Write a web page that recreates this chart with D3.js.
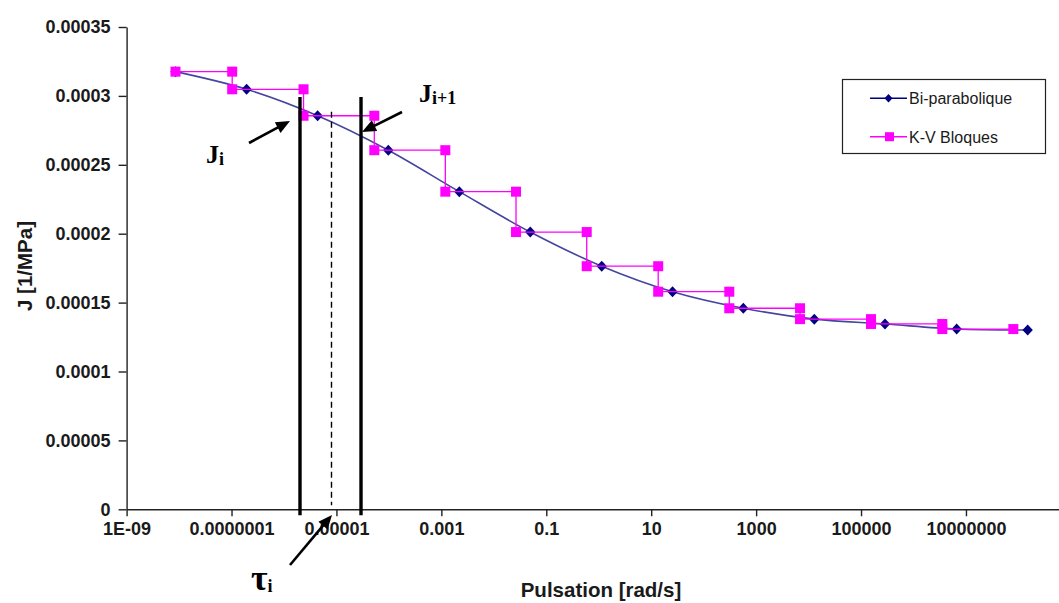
<!DOCTYPE html>
<html>
<head>
<meta charset="utf-8">
<script src="https://cdn.jsdelivr.net/npm/d3@7/dist/d3.min.js"></script>
<style>
  html, body { margin: 0; padding: 0; background: #fff; }
  svg { display: block; }
</style>
</head>
<body>
<svg id="chart" width="1059" height="603"></svg>
<script>
// ---------------- DATA ----------------
// Bi-parabolique model (pulsation [rad/s], J [1/MPa])
const omegaBi = [8.55e-9, 1.94e-7, 4.38e-6, 9.75e-5, 2.2e-3, 0.0495, 1.14, 25.5, 570, 12850, 2.86e5, 6.65e6, 1.5e8];
const jBi     = [0.0003176, 0.0003048, 0.0002856, 0.0002606, 0.0002305, 0.0002012, 0.0001764, 0.0001579, 0.0001459, 0.000138, 0.0001345, 0.0001308, 0.0001301];
// K-V Bloques (step boundaries and step levels)
const tauKV = [8.55e-9, 1.03e-7, 2.36e-6, 5.27e-5, 1.19e-3, 0.0265, 0.59, 13.6, 308, 6870, 1.55e5, 3.54e6, 8.0e7];
const jKV   = [0.0003176, 0.0003048, 0.0002856, 0.0002606, 0.0002305, 0.0002012, 0.0001764, 0.0001579, 0.0001459, 0.000138, 0.0001345, 0.0001308];
// Axis ticks
const xTickValues = [1e-9, 1e-7, 1e-5, 1e-3, 1e-1, 1e1, 1e3, 1e5, 1e7];
const xTickLabels = ["1E-09", "0.0000001", "0.00001", "0.001", "0.1", "10", "1000", "100000", "10000000"];
const yTickValues = [0, 0.00005, 0.0001, 0.00015, 0.0002, 0.00025, 0.0003, 0.00035];
const yTickLabels = ["0", "0.00005", "0.0001", "0.00015", "0.0002", "0.00025", "0.0003", "0.00035"];
const seriesNames = ["Bi-parabolique", "K-V Bloques"];
// Annotation positions (data space): tau_i bounds and tau_i
const annotOmega = { left: 2.02e-6, right: 2.94e-5, tau: 8.05e-6 };

// ---------------- SCALES ----------------
const svg = d3.select("#chart");
const x = d3.scaleLog().domain([1e-9, 1e9]).range([126.6, 126.6 + 18 * 52.46]);
const y = d3.scaleLinear().domain([0, 0.00035]).range([509.3, 27]);

const sansBold = "'Liberation Sans', Arial, sans-serif";
const textCol = "#1a1a1a";

// ---------------- AXES ----------------
const xAxis = d3.axisBottom(x)
  .tickValues(xTickValues)
  .tickFormat((d, i) => xTickLabels[i])
  .tickSizeInner(7).tickSizeOuter(0).tickPadding(6);
const gx = svg.append("g").attr("transform", `translate(0,${y(0)})`).call(xAxis);

const yAxis = d3.axisLeft(y)
  .tickValues(yTickValues)
  .tickFormat((d, i) => yTickLabels[i])
  .tickSizeInner(8).tickSizeOuter(0).tickPadding(8);
const gy = svg.append("g").attr("transform", `translate(${x(1e-9)},0)`).call(yAxis);

[gx, gy].forEach(g => {
  g.select(".domain").attr("stroke", "#222").attr("stroke-width", 1.4);
  g.selectAll(".tick line").attr("stroke", "#222").attr("stroke-width", 1.4);
  g.selectAll(".tick text")
    .attr("fill", textCol)
    .style("font-family", sansBold)
    .style("font-weight", "bold")
    .style("font-size", "18px");
});

// Axis titles
svg.append("text")
  .attr("x", 601).attr("y", 597)
  .attr("text-anchor", "middle")
  .attr("fill", textCol)
  .style("font-family", sansBold).style("font-weight", "bold").style("font-size", "20.5px")
  .text("Pulsation [rad/s]");

svg.append("text")
  .attr("transform", "translate(32,266) rotate(-90)")
  .attr("text-anchor", "middle")
  .attr("fill", textCol)
  .style("font-family", sansBold).style("font-weight", "bold").style("font-size", "20.5px")
  .text("J [1/MPa]");

// ---------------- SERIES ----------------
const blueLine = "#45459f";
const navy = "#000080";
const magenta = "#ff00ff";

const biData = omegaBi.map((w, i) => ({ w, j: jBi[i] }));
const line = d3.line().x(d => x(d.w)).y(d => y(d.j)).curve(d3.curveCatmullRom.alpha(0.5));

svg.append("path")
  .datum(biData)
  .attr("d", line)
  .attr("fill", "none")
  .attr("stroke", blueLine)
  .attr("stroke-width", 1.6);

const diamondPath = (w, h) => `M0,${-h} L${w},0 L0,${h} L${-w},0 Z`;
svg.append("g").selectAll("path")
  .data(biData)
  .join("path")
  .attr("d", diamondPath(5.2, 5.5))
  .attr("transform", d => `translate(${x(d.w)},${y(d.j)})`)
  .attr("fill", navy);

// K-V step vertices built from tauKV and jKV
const kvData = [{ w: tauKV[0], j: jKV[0] }];
for (let i = 1; i < tauKV.length; i++) {
  kvData.push({ w: tauKV[i], j: jKV[i - 1] });
  if (i < jKV.length) kvData.push({ w: tauKV[i], j: jKV[i] });
}
const kvLine = d3.line().x(d => x(d.w)).y(d => y(d.j));
svg.append("path")
  .datum(kvData)
  .attr("d", kvLine)
  .attr("fill", "none")
  .attr("stroke", magenta)
  .attr("stroke-width", 1.3);

svg.append("g").selectAll("rect")
  .data(kvData)
  .join("rect")
  .attr("x", d => x(d.w) - 5)
  .attr("y", d => y(d.j) - 5)
  .attr("width", 10).attr("height", 10)
  .attr("fill", magenta);

// ---------------- ANNOTATIONS ----------------
const ann = svg.append("g");
// thick vertical bounds
[annotOmega.left, annotOmega.right].forEach(w => {
  ann.append("line")
    .attr("x1", x(w)).attr("x2", x(w))
    .attr("y1", y(0.0002992)).attr("y2", y(0) + 6)
    .attr("stroke", "#000").attr("stroke-width", 3.4);
});
// dashed tau line
ann.append("line")
  .attr("x1", x(annotOmega.tau)).attr("x2", x(annotOmega.tau))
  .attr("y1", y(0.0002885)).attr("y2", y(0) - 4)
  .attr("stroke", "#000").attr("stroke-width", 1.4)
  .attr("stroke-dasharray", "6,4");

function arrow(x1, y1, x2, y2) {
  const ang = Math.atan2(y2 - y1, x2 - x1);
  const L = 14, W = 6;
  const bx = x2 - L * Math.cos(ang), by = y2 - L * Math.sin(ang);
  ann.append("line")
    .attr("x1", x1).attr("y1", y1).attr("x2", bx + 2 * Math.cos(ang)).attr("y2", by + 2 * Math.sin(ang))
    .attr("stroke", "#000").attr("stroke-width", 2.6);
  const px = -Math.sin(ang), py = Math.cos(ang);
  ann.append("path")
    .attr("d", `M${x2},${y2} L${bx + W * px},${by + W * py} L${bx - W * px},${by - W * py} Z`)
    .attr("fill", "#000");
}
arrow(249, 143, 290, 121);
arrow(402, 112, 362, 132);
arrow(290, 565, 332, 515);

const serif = "'Liberation Serif', 'Times New Roman', serif";
function label(xp, yp, main, sub, mainSize, subSize) {
  const t = ann.append("text")
    .attr("x", xp).attr("y", yp)
    .attr("fill", "#000")
    .style("font-family", serif).style("font-weight", "bold")
    .style("font-size", mainSize + "px");
  t.append("tspan").text(main);
  t.append("tspan").attr("dy", 2).style("font-size", subSize + "px").text(sub);
}
label(206, 163, "J", "i", 26, 18);
label(419, 102, "J", "i+1", 26, 18);
label(251, 590, "τ", "i", 36, 18);

// ---------------- LEGEND ----------------
const lg = svg.append("g");
lg.append("rect")
  .attr("x", 842.5).attr("y", 79.5).attr("width", 203).attr("height", 74)
  .attr("fill", "#fff").attr("stroke", "#222").attr("stroke-width", 1.2);
const legendRows = [
  { name: seriesNames[0], color: navy, ly: 98.3, marker: "diamond" },
  { name: seriesNames[1], color: magenta, ly: 136.7, marker: "square" }
];
legendRows.forEach(r => {
  lg.append("line")
    .attr("x1", 870).attr("x2", 907).attr("y1", r.ly).attr("y2", r.ly)
    .attr("stroke", r.color).attr("stroke-width", 1.4);
  if (r.marker === "diamond") {
    lg.append("path")
      .attr("d", diamondPath(4, 4.3))
      .attr("transform", `translate(888.5,${r.ly})`)
      .attr("fill", r.color);
  } else {
    lg.append("rect")
      .attr("x", 885).attr("y", r.ly - 4.5).attr("width", 9).attr("height", 9)
      .attr("fill", r.color);
  }
  lg.append("text")
    .attr("x", 909).attr("y", r.ly + 5.8)
    .attr("fill", textCol)
    .style("font-family", sansBold)
    .style("font-size", "16px")
    .text(r.name);
});
</script>
</body>
</html>
